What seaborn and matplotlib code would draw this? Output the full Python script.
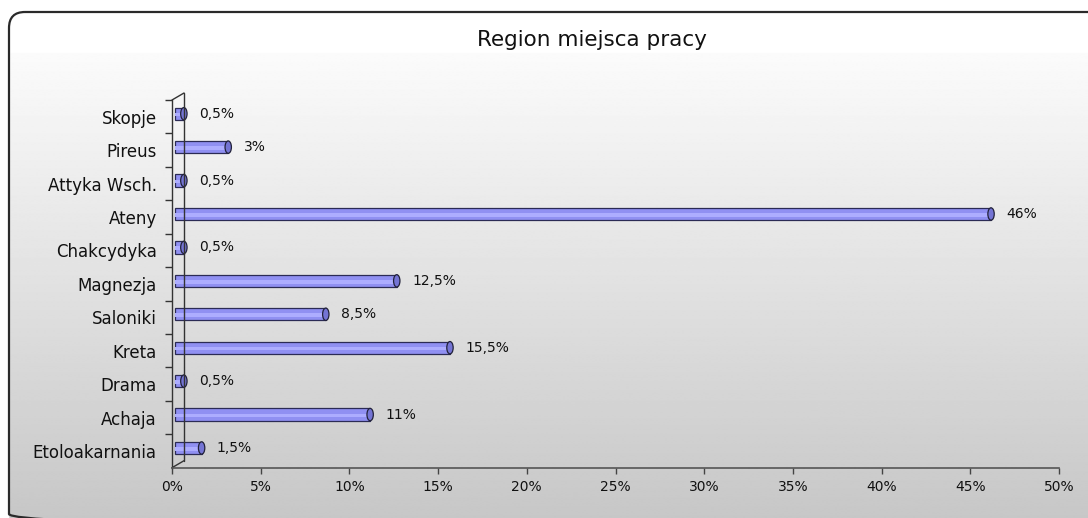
import numpy as np
import pandas as pd
import matplotlib
matplotlib.use("Agg")
import matplotlib.pyplot as plt
import matplotlib.transforms as mtransforms
from matplotlib.patches import FancyBboxPatch, Ellipse, Rectangle
import seaborn as sns

# ---- data ----
categories = ["Skopje", "Pireus", "Attyka Wsch.", "Ateny", "Chakcydyka", "Magnezja",
              "Saloniki", "Kreta", "Drama", "Achaja", "Etoloakarnania"]
values = [0.5, 3, 0.5, 46, 0.5, 12.5, 8.5, 15.5, 0.5, 11, 1.5]
x_ticks = [0, 5, 10, 15, 20, 25, 30, 35, 40, 45, 50]
title = "Region miejsca pracy"

sns.set_theme(style="white")
plt.rcParams['font.family'] = ['DejaVu Sans']

W, H = 1088, 518
fig = plt.figure(figsize=(W / 100, H / 100), dpi=100)
fig.patch.set_facecolor("white")

# ---- background: rounded box with vertical gradient ----
bg = fig.add_axes([0, 0, 1, 1], zorder=-1)
bg.set_xlim(0, W)
bg.set_ylim(H, 0)
bg.axis("off")
box = FancyBboxPatch((9, 12), 1110, 518, boxstyle="round,pad=0,rounding_size=16",
                     facecolor="none", edgecolor="#2a2a2a", linewidth=1.6, zorder=3)
bg.add_patch(box)
rows = np.linspace(0, H, 400)
shade = np.where(rows < 53, 255, 251 - (rows - 53) / (H - 53) * 52) / 255.0
grad = np.repeat(shade[:, None], 2, axis=1)
im = bg.imshow(grad, extent=(0, W, H, 0), cmap="gray", vmin=0, vmax=1,
               aspect="auto", interpolation="bilinear", zorder=1)
im.set_clip_path(box)

# ---- main axes ----
left, right = 172 / W, 1059 / W
bottom, top = 1 - 467.7 / H, 1 - 100 / H
ax = fig.add_axes([left, bottom, right - left, top - bottom])
ax.set_facecolor("none")

df = pd.DataFrame({"Region": categories, "Udzial": values})
bar_h = 0.37
sns.barplot(data=df, x="Udzial", y="Region", orient="h", color="#9090f2",
            edgecolor="#2b2b55", linewidth=0.9, width=bar_h, saturation=1, ax=ax)

# 3D-like offset for bars (shift right/up a few pixels)
off = mtransforms.offset_copy(ax.transData, fig=fig, x=3, y=3, units="dots")
for p in list(ax.patches):
    p.set_transform(off)
    x0, y0 = p.get_x(), p.get_y()
    w, h = p.get_width(), p.get_height()
    # highlight stripe
    ax.add_patch(Rectangle((x0, y0 + h * 0.42), w, h * 0.3, facecolor="#adadff",
                           edgecolor="none", transform=off, zorder=p.get_zorder() + 0.1))
    # cylinder end cap
    ax.add_patch(Ellipse((x0 + w, y0 + h / 2), 0.36, h, facecolor="#7474d4",
                         edgecolor="#22223a", linewidth=0.9, transform=off,
                         zorder=p.get_zorder() + 0.2))

for i, v in enumerate(values):
    lab = f"{v:g}".replace(".", ",") + "%"
    ax.annotate(lab, xy=(v, i), xycoords=off, xytext=(11, 0), textcoords="offset points",
                ha="left", va="center", fontsize=10, color="#111111")

ax.set_xlim(0, 50)
ax.set_ylim(len(categories) - 0.5, -0.5)
ax.set_xticks(x_ticks)
ax.set_xticklabels([f"{t}%" for t in x_ticks])
ax.set_xlabel("")
ax.set_ylabel("")

ax.set_yticks(range(len(categories)))
ax.set_yticklabels(categories)
ax.set_yticks(np.arange(-0.5, len(categories) - 0.5, 1), minor=True)
ax.tick_params(axis="y", which="major", length=0, pad=11, labelsize=12, labelcolor="#111111")
ax.tick_params(axis="y", which="minor", length=5, width=1, color="#333333", direction="out", left=True)
ax.tick_params(axis="x", which="major", length=4.5, width=1, color="#444444", direction="out",
               bottom=True, pad=4, labelsize=10, labelcolor="#111111")

for s in ["top", "right"]:
    ax.spines[s].set_visible(False)
ax.spines["left"].set_color("#333333")
ax.spines["left"].set_linewidth(1.0)
ax.spines["bottom"].set_color("#555555")
ax.spines["bottom"].set_linewidth(1.2)

# back wall line (3D effect)
dx, dy = 12 / (1059 - 172), 7 / (467.7 - 100)
kw = dict(transform=ax.transAxes, color="#333333", linewidth=1.0, clip_on=False)
ax.plot([dx, dx], [dy, 1 + dy], **kw)
ax.plot([0, dx], [0, dy], **kw)
ax.plot([0, dx], [1, 1 + dy], **kw)

fig.text(592 / W, 1 - 40 / H, title, ha="center", va="center", fontsize=15.5, color="#111111")

fig.savefig("out.png", dpi=100)
